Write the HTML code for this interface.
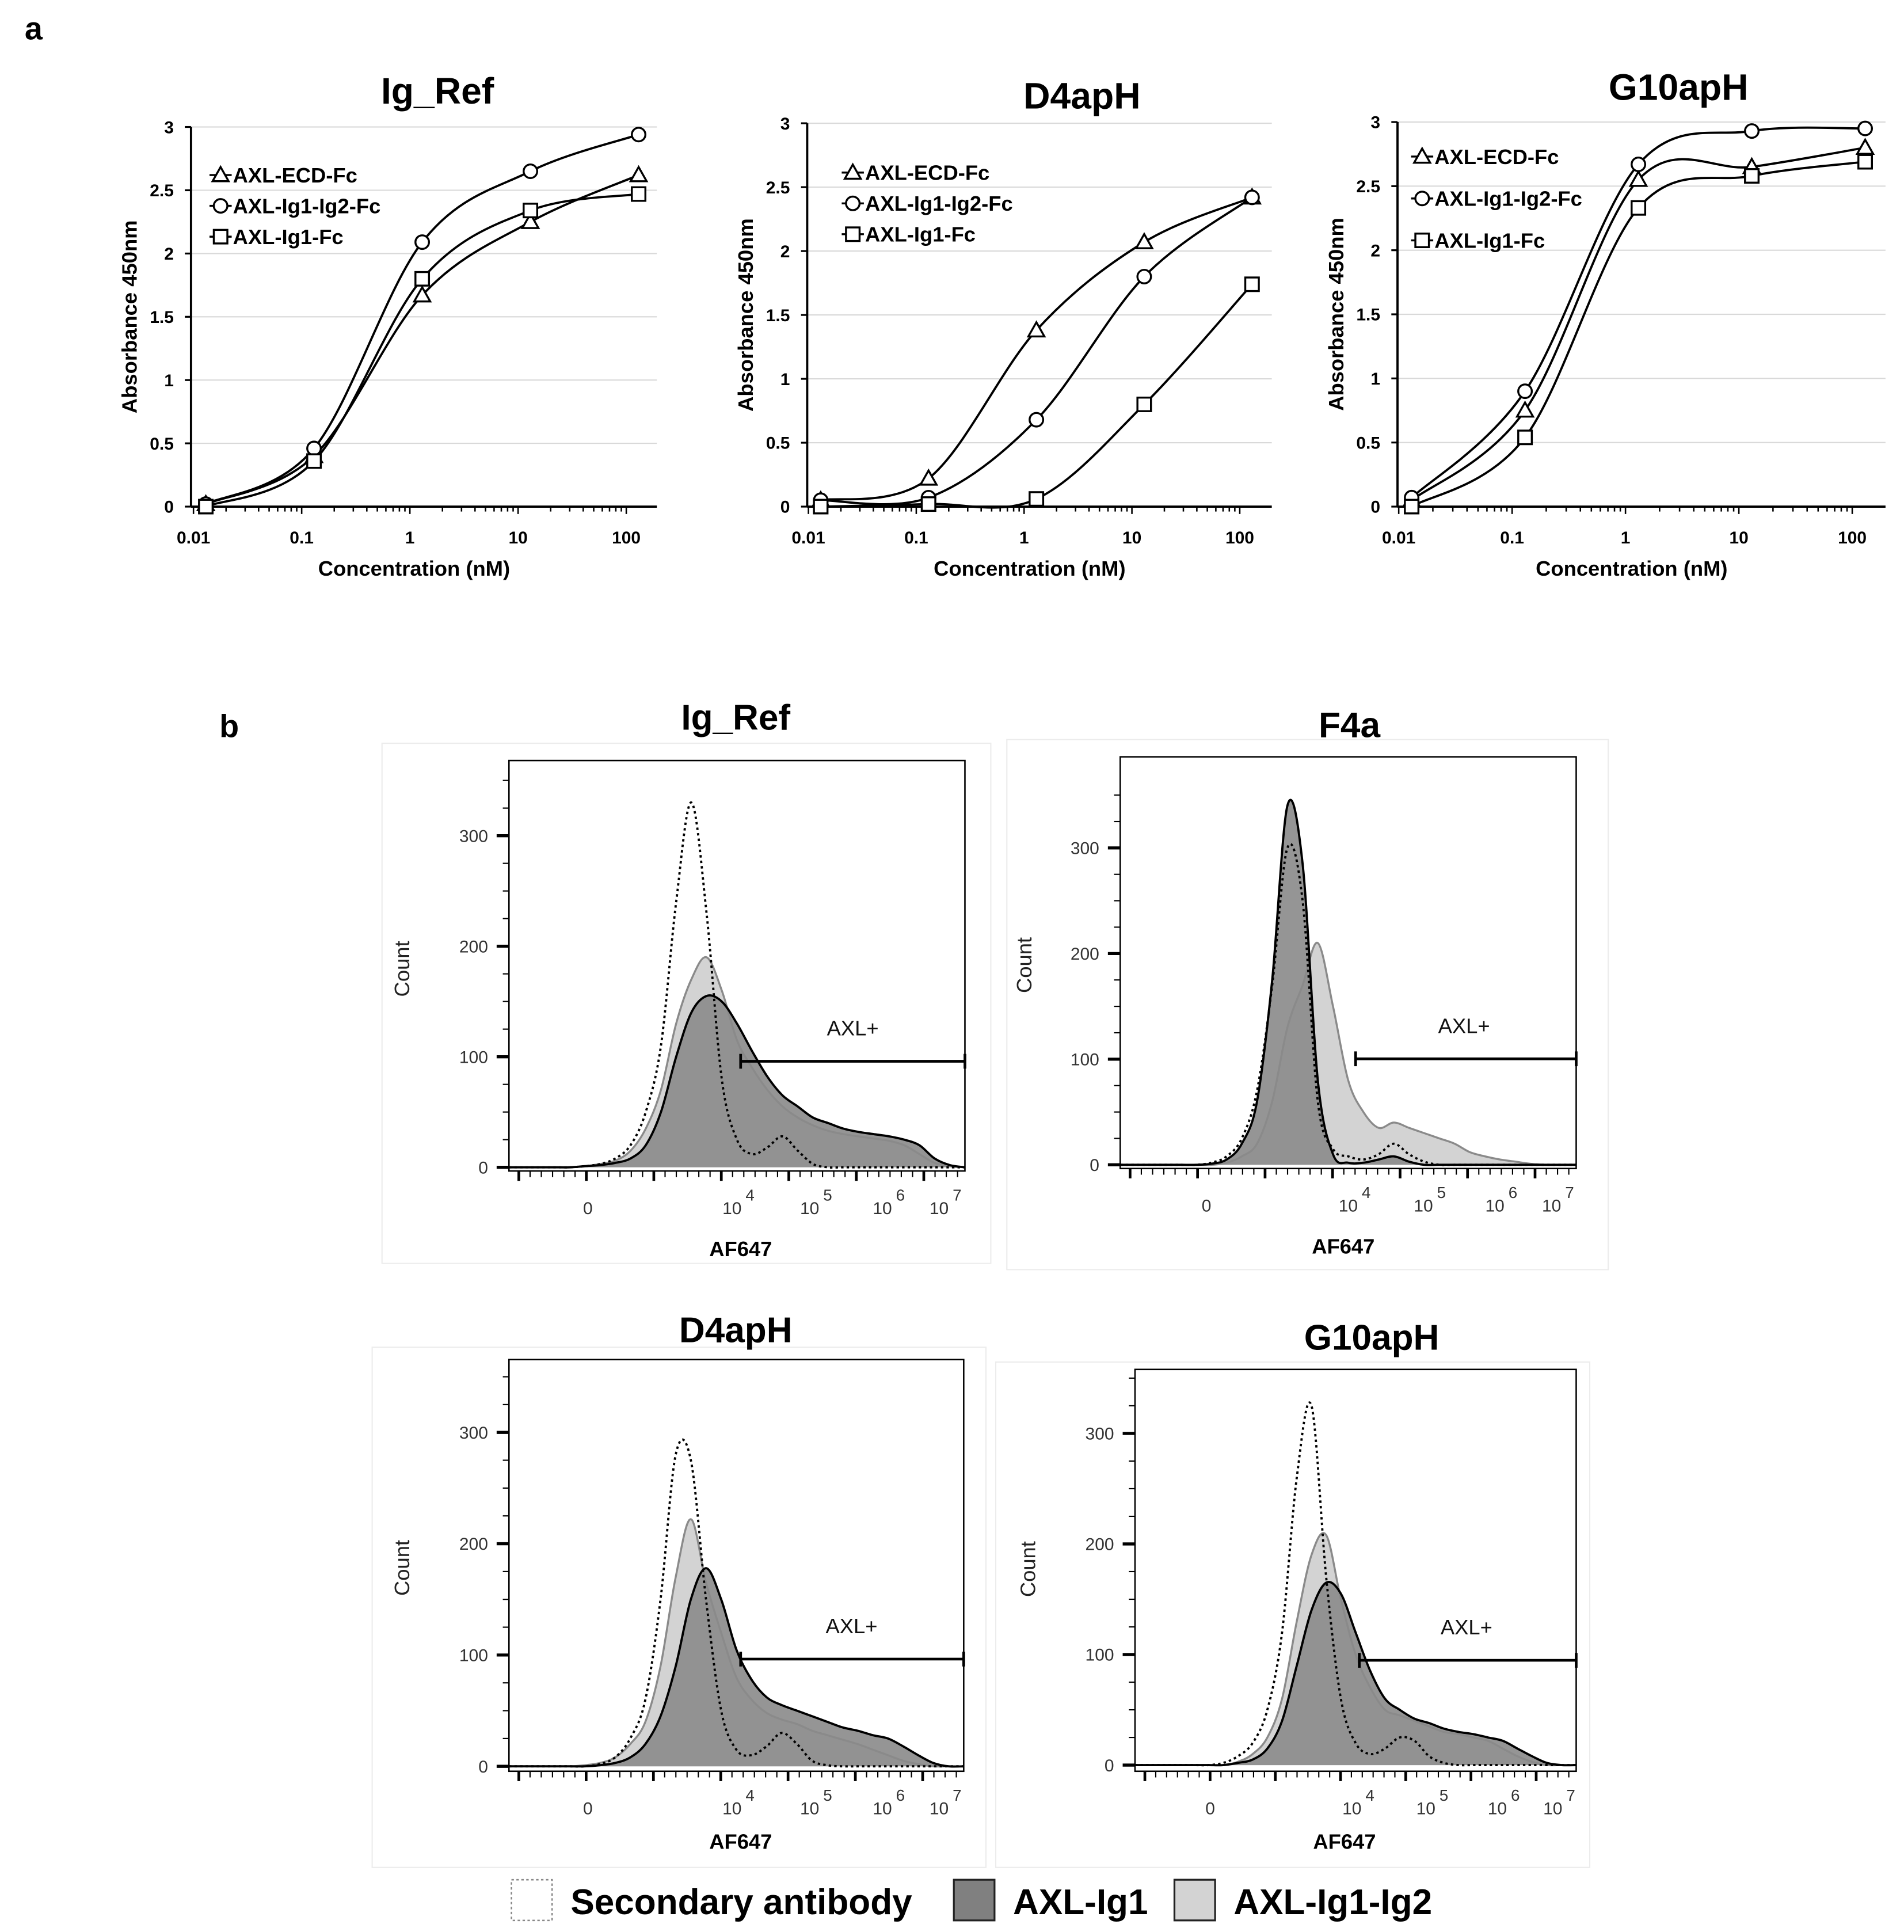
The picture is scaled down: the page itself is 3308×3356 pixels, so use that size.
<!DOCTYPE html>
<html><head><meta charset="utf-8">
<style>
html,body{margin:0;padding:0;background:#fff;}
svg{display:block;}
text{font-family:"Liberation Sans",sans-serif;}
.b{font-weight:bold;}
.n{font-family:"Liberation Sans Narrow","Liberation Sans",sans-serif;font-weight:bold;}
</style></head>
<body>
<svg id="fig" xmlns="http://www.w3.org/2000/svg" width="3308" height="3356" viewBox="0 0 1545 1567.4">
<rect x="0" y="0" width="1545" height="1567.4" fill="#fff"/>
<text x="20" y="32" class="b" font-size="26">a</text>
<text x="178" y="598" class="b" font-size="26">b</text>
<g id="elisa"></g>
<g id="hist"></g>
<g id="legend">
  <rect x="415" y="1525" width="33" height="33" fill="#fff" stroke="#888" stroke-width="1.2" stroke-dasharray="2,2"/>
  <text x="463" y="1553" class="n" font-size="29">Secondary antibody</text>
  <rect x="774" y="1525" width="33" height="33" fill="#808080" stroke="#222" stroke-width="1.5"/>
  <text x="822" y="1553" class="n" font-size="29">AXL-Ig1</text>
  <rect x="953" y="1525" width="33" height="33" fill="#d3d3d3" stroke="#222" stroke-width="1.5"/>
  <text x="1001" y="1553" class="n" font-size="29">AXL-Ig1-Ig2</text>
</g>
</svg>
<script>
const NS='http://www.w3.org/2000/svg';
// ---------- ELISA data ----------
const concentrations=[0.013,0.13,1.3,13,130];
const yTicks=[0,0.5,1,1.5,2,2.5,3];
const xTickLabels=['0.01','0.1','1','10','100'];
const seriesNames=['AXL-ECD-Fc','AXL-Ig1-Ig2-Fc','AXL-Ig1-Fc'];
const igRefECD=[0.02,0.40,1.67,2.25,2.62];
const igRefIg12=[0.02,0.46,2.09,2.65,2.94];
const igRefIg1=[0.00,0.36,1.80,2.34,2.47];
const d4ECD=[0.05,0.22,1.38,2.07,2.42];
const d4Ig12=[0.05,0.07,0.68,1.80,2.42];
const d4Ig1=[0.00,0.02,0.06,0.80,1.74];
const g10ECD=[0.05,0.75,2.55,2.65,2.80];
const g10Ig12=[0.07,0.90,2.67,2.93,2.95];
const g10Ig1=[0.00,0.54,2.33,2.58,2.69];

// ---------- Histogram data (counts per bin, 31 bins spanning the axis) ----------
const histBins=[0,1,2,3,4,5,6,7,8,9,10,11,12,13,14,15,16,17,18,19,20,21,22,23,24,25,26,27,28,29,30];
const histYTicks=[0,100,200,300];
const histXLabels=['0','10','10','10','10'];
const histXExp=['','4','5','6','7'];
const igRefSec=[0,0,0,0,0,1,3,8,20,50,110,240,330,230,80,25,12,18,28,15,3,0,0,0,0,0,0,0,0,0,0];
const igRefLight=[0,0,0,0,0,1,3,6,15,35,70,130,170,190,160,115,90,70,55,45,38,33,30,28,26,24,20,12,4,1,0];
const igRefDark=[0,0,0,0,0,1,2,4,8,20,50,100,140,155,150,130,105,82,65,55,45,40,35,32,30,28,25,20,8,2,0];
const f4Sec=[0,0,0,0,0,0,2,8,25,70,170,300,250,60,15,8,5,10,20,10,3,0,0,0,0,0,0,0,0,0,0];
const f4Light=[0,0,0,0,0,0,0,2,8,20,60,130,170,210,150,80,50,35,40,35,30,25,20,12,8,5,3,1,0,0,0];
const f4Dark=[0,0,0,0,0,0,1,5,20,60,175,340,285,80,10,2,2,5,8,3,0,0,0,0,0,0,0,0,0,0,0];
const d4Sec=[0,0,0,0,0,0,2,8,25,60,150,280,275,150,50,15,10,18,30,20,5,1,0,0,0,0,0,0,0,0,0];
const d4Light=[0,0,0,0,0,1,3,8,20,40,90,170,222,165,120,80,60,48,42,38,32,28,24,20,15,10,5,2,0,0,0];
const d4Dark=[0,0,0,0,0,0,1,3,8,20,45,90,150,178,150,105,78,62,55,50,45,40,35,32,28,25,18,10,3,0,0];
const g10Sec=[0,0,0,0,0,0,2,8,20,50,120,260,325,170,60,20,10,15,25,22,8,2,0,0,0,0,0,0,0,0,0];
const g10Light=[0,0,0,0,0,0,0,3,10,25,60,130,190,208,150,100,70,50,45,40,35,30,28,25,22,15,8,3,0,0,0];
const g10Dark=[0,0,0,0,0,0,0,2,5,15,40,90,140,165,155,120,85,60,50,42,38,33,30,28,25,22,15,8,2,0,0];

function el(tag,attrs,parent){const e=document.createElementNS(NS,tag);for(const k in attrs)e.setAttribute(k,attrs[k]);if(parent)parent.appendChild(e);return e;}
function txt(parent,x,y,s,attrs){const t=el('text',Object.assign({x:x,y:y},attrs||{}),parent);t.textContent=s;return t;}
function catmull(pts){let d='M'+pts[0][0].toFixed(2)+','+pts[0][1].toFixed(2);
  for(let i=0;i<pts.length-1;i++){const p0=pts[i-1]||pts[i],p1=pts[i],p2=pts[i+1],p3=pts[i+2]||p2;
    const c1=[p1[0]+(p2[0]-p0[0])/6,p1[1]+(p2[1]-p0[1])/6],c2=[p2[0]-(p3[0]-p1[0])/6,p2[1]-(p3[1]-p1[1])/6];
    d+=' C'+c1.map(v=>v.toFixed(2))+' '+c2.map(v=>v.toFixed(2))+' '+p2[0].toFixed(2)+','+p2[1].toFixed(2);}
  return d;}

// ---------- ELISA panels ----------
const elisaPanels=[
 {id:'ig-ref',title:'Ig_Ref',tx:355,ty:84,ax:155,x0:157,dec:87.8,right:533,yTop:103,yBot:411,series:[igRefECD,igRefIg12,igRefIg1],lx:170,ly:[142,167,192]},
 {id:'d4aph',title:'D4apH',tx:878,ty:88,ax:655,x0:656,dec:87.5,right:1032,yTop:100,yBot:411,series:[d4ECD,d4Ig12,d4Ig1],lx:683,ly:[140,165,190]},
 {id:'g10aph',title:'G10apH',tx:1362,ty:81,ax:1134,x0:1135,dec:92,right:1530,yTop:99,yBot:411,series:[g10ECD,g10Ig12,g10Ig1],lx:1145,ly:[127,161,195]}
];
const eRoot=document.getElementById('elisa');
function marker(g,k,x,y,name){
  let m;
  if(k===0) m=el('polygon',{points:`${x},${y-6.5} ${x-6.5},${y+5} ${x+6.5},${y+5}`,fill:'#fff',stroke:'#000','stroke-width':1.6},g);
  else if(k===1) m=el('circle',{cx:x,cy:y,r:5.5,fill:'#fff',stroke:'#000','stroke-width':1.6},g);
  else m=el('rect',{x:x-5.5,y:y-5.5,width:11,height:11,fill:'#fff',stroke:'#000','stroke-width':1.6},g);
  
  
  return m;
}
elisaPanels.forEach(p=>{
  const g=el('g',{},eRoot);
  
  
  const xs=c=>p.x0+p.dec*(Math.log10(c)+2);
  const ys=v=>p.yBot-(p.yBot-p.yTop)*v/3;
  const t=txt(g,p.tx,p.ty,p.title,{'text-anchor':'middle','font-size':30,class:'b'});
  
  
  yTicks.forEach(v=>{
    if(v>0){const gl=el('line',{x1:p.ax,x2:p.right,y1:ys(v),y2:ys(v),stroke:'#d9d9d9','stroke-width':1},g);
      
      }
    el('line',{x1:p.ax-5,x2:p.ax,y1:ys(v),y2:ys(v),stroke:'#000','stroke-width':1.5},g);
    const l=txt(g,p.ax-14,ys(v)+5,String(v),{'text-anchor':'end','font-size':14,class:'b'});
    
    
  });
  const ya=el('line',{x1:p.ax,x2:p.ax,y1:p.yTop,y2:p.yBot,stroke:'#000','stroke-width':1.8},g);
  
  
  const xa=el('line',{x1:p.ax,x2:p.right,y1:p.yBot,y2:p.yBot,stroke:'#000','stroke-width':1.8},g);
  
  
  for(let d=-2;d<=2;d++){for(let m=1;m<10;m++){const c=m*Math.pow(10,d);const x=xs(c);if(x>p.right)break;
    el('line',{x1:x,x2:x,y1:p.yBot,y2:p.yBot+(m===1?6:4),stroke:'#000','stroke-width':1.2},g);}}
  xTickLabels.forEach((s,i)=>{const l=txt(g,xs(Math.pow(10,i-2)),p.yBot+30,s,{'text-anchor':'middle','font-size':14,class:'b'});
    
    });
  const xt=txt(g,(p.ax+p.right)/2-8,p.yBot+56,'Concentration (nM)',{'text-anchor':'middle','font-size':17,class:'b'});
  
  
  const yt=txt(g,0,0,'Absorbance 450nm',{'text-anchor':'middle','font-size':17,class:'b',transform:`translate(${p.ax-44},${(p.yTop+p.yBot)/2}) rotate(-90)`});
  
  
  p.series.forEach((vals,k)=>{
    const pts=concentrations.map((c,i)=>[xs(c),ys(vals[i])]);
    const path=el('path',{d:catmull(pts),fill:'none',stroke:'#000','stroke-width':1.8},g);
    
    
    pts.forEach(q=>marker(g,k,q[0],q[1],'point-'+seriesNames[k].toLowerCase()));
    const lg=el('g',{},g);
    
    
    el('line',{x1:p.lx,x2:p.lx+18,y1:p.ly[k],y2:p.ly[k],stroke:'#000','stroke-width':1.6},lg);
    marker(lg,k,p.lx+9,p.ly[k],'legend-marker');
    txt(lg,p.lx+19,p.ly[k]+6,seriesNames[k],{'font-size':17,class:'b'});
  });
});

// ---------- Histogram panels ----------
const histPanels=[
 {id:'ig-ref',title:'Ig_Ref',tx:597,ty:592,box:[310,603,804,1025],fr:[413,617,783,950],y0:947,k:0.8967,xl:[477,594,657,716,762],gate:[601,783,861],axl:[692,840],cnt:[326,786],af:[601,1019],sec:igRefSec,light:igRefLight,dark:igRefDark},
 {id:'f4a',title:'F4a',tx:1095,ty:598,box:[817,600,1305,1030],fr:[909,614,1279,948],y0:945,k:0.857,xl:[979,1094,1155,1213,1259],gate:[1100,1279,859],axl:[1188,838],cnt:[831,783],af:[1090,1017],sec:f4Sec,light:f4Light,dark:f4Dark},
 {id:'d4aph',title:'D4apH',tx:597,ty:1089,box:[302,1093,800,1515],fr:[413,1103,782,1437],y0:1433,k:0.903,xl:[477,594,657,716,762],gate:[601,782,1346],axl:[691,1325],cnt:[326,1272],af:[601,1500],sec:d4Sec,light:d4Light,dark:d4Dark},
 {id:'g10aph',title:'G10apH',tx:1113,ty:1095,box:[808,1105,1290,1515],fr:[921,1111,1279,1437],y0:1432,k:0.897,xl:[982,1097,1157,1215,1260],gate:[1103,1279,1347],axl:[1190,1326],cnt:[834,1273],af:[1091,1500],sec:g10Sec,light:g10Light,dark:g10Dark}
];
const hRoot=document.getElementById('hist');
histPanels.forEach(p=>{
  const g=el('g',{},hRoot);
  
  
  el('rect',{x:p.box[0],y:p.box[1],width:p.box[2]-p.box[0],height:p.box[3]-p.box[1],fill:'none',stroke:'#ececec','stroke-width':1},g);
  const t=txt(g,p.tx,p.ty,p.title,{'text-anchor':'middle','font-size':29,class:'n'});
  
  
  const [L,T,R,B]=p.fr;
  const n=histBins.length-1;
  const xs=i=>L+(R-L)*i/n;
  const ys=v=>p.y0-v*p.k;
  function pts(arr){return histBins.map((b,i)=>[xs(b),ys(arr[i])]);}
  function area(arr){return catmull(pts(arr))+` L${R},${p.y0} L${L},${p.y0} Z`;}
  const lf=el('path',{d:area(p.light),fill:'#d3d3d3',stroke:'none'},g);
  
  
  const df=el('path',{d:area(p.dark),fill:'#8c8c8c','fill-opacity':0.92,stroke:'none'},g);
  
  
  const ll=el('path',{d:catmull(pts(p.light)),fill:'none',stroke:'#8a8a8a','stroke-width':1.6},g);
  
  
  const dl=el('path',{d:catmull(pts(p.dark)),fill:'none',stroke:'#000','stroke-width':1.8},g);
  
  
  const sl=el('path',{d:catmull(pts(p.sec)),fill:'none',stroke:'#000','stroke-width':1.8,'stroke-dasharray':'2,2.5'},g);
  
  
  el('rect',{x:L,y:T,width:R-L,height:B-T,fill:'none',stroke:'#000','stroke-width':1.2},g);
  for(let v=0;v<=350;v+=25){const y=p.y0-v*p.k;if(y<T)break;const major=v%100===0;
    el('line',{x1:L-(major?10:5),x2:L,y1:y,y2:y,stroke:'#000','stroke-width':major?2.5:1},g);}
  histYTicks.forEach(v=>{const l=txt(g,L-17,p.y0-v*p.k+5,String(v),{'text-anchor':'end','font-size':14,fill:'#333'});
    
    });
  const minorX=[];
  for(let i=0;i<40;i++){minorX.push(L+8+(i*(R-L-14)/39));}
  minorX.forEach((x,i)=>{const big=i%6===0;el('line',{x1:x,x2:x,y1:B,y2:B+(big?8:5),stroke:'#000','stroke-width':big?2.2:1},g);});
  p.xl.forEach((x,i)=>{const l=txt(g,x,B+35,histXLabels[i],{'text-anchor':'middle','font-size':14,fill:'#333'});
    
    
    if(histXExp[i]){txt(g,x+11,B+24,histXExp[i],{'font-size':13,fill:'#333'});}});
  const c=txt(g,0,0,'Count',{'text-anchor':'middle','font-size':17,fill:'#222',transform:`translate(${p.cnt[0]+6},${p.cnt[1]}) rotate(-90)`});
  
  
  const a=txt(g,p.af[0],p.af[1],'AF647',{'text-anchor':'middle','font-size':17,class:'b'});
  
  
  const gate=el('g',{},g);
  
  
  el('line',{x1:p.gate[0],x2:p.gate[1],y1:p.gate[2],y2:p.gate[2],stroke:'#000','stroke-width':2.2},gate);
  el('line',{x1:p.gate[0],x2:p.gate[0],y1:p.gate[2]-6,y2:p.gate[2]+6,stroke:'#000','stroke-width':2.2},gate);
  el('line',{x1:p.gate[1],x2:p.gate[1],y1:p.gate[2]-6,y2:p.gate[2]+6,stroke:'#000','stroke-width':2.2},gate);
  txt(gate,p.axl[0],p.axl[1],'AXL+',{'text-anchor':'middle','font-size':17,fill:'#111'});
});
</script>
</body></html>
